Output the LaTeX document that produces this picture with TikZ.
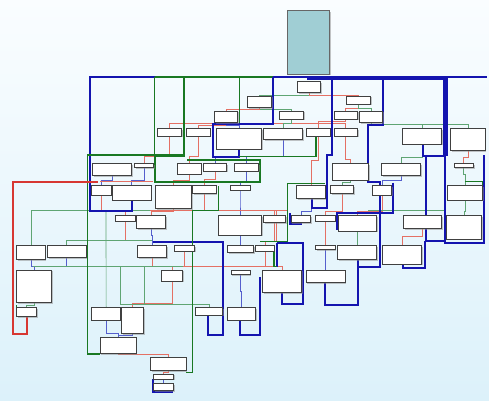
\documentclass[tikz,border=0pt]{standalone}
\usepackage{xcolor}
\usepackage{tikz}
\usetikzlibrary{backgrounds,shadows}

\definecolor{wireblue}{RGB}{20,20,175}
\definecolor{wiregreen}{RGB}{25,120,35}
\definecolor{wirered}{RGB}{215,55,50}
\definecolor{thinred}{RGB}{228,112,100}
\definecolor{thingreen}{RGB}{95,165,115}
\definecolor{thinblue}{RGB}{85,95,205}
\definecolor{entryfill}{RGB}{160,206,212}
\definecolor{skytop}{RGB}{250,253,255}
\definecolor{skybottom}{RGB}{220,241,250}

\begin{document}
\begin{tikzpicture} [x=0.5pt, y=-0.5pt,
       cfgblock/.style = {rectangle, inner sep=0pt, outer sep=0pt,
                          draw=black!75, line width=1.1pt, fill=white,
                          drop shadow={shadow xshift=2.2pt, shadow yshift=-2.2pt, fill=black!45}},
       entryblock/.style = {cfgblock, fill=entryfill, draw=black!60},
       bluewire/.style = {draw=wireblue, line width=3pt},
       greenwire/.style = {draw=wiregreen, line width=2.4pt},
       redwire/.style = {draw=wirered, line width=2.6pt},
       redthin/.style = {draw=thinred, line width=1pt},
       greenthin/.style = {draw=thingreen, line width=1pt},
       bluethin/.style = {draw=thinblue, line width=1pt}]
	%% Blocks
	\node [entryblock, minimum width=63pt, minimum height=95pt] (entry) at (925,127) {};
	\foreach \n/\xa/\ya/\xb/\yb in {b1/892/245/962/278, b2/742/288/815/322, b3/1040/288/1112/312,
	    b4/838/333/910/357, b5/643/333/712/367, b6/1002/333/1072/357, b7/1078/333/1148/367,
	    b8/472/385/545/408, b9/560/385/630/408, b10/650/385/785/447, b11/790/385/908/418,
	    b12/918/385/990/408, b13/1002/385/1072/408, b14/1207/385/1325/432, b15/1352/385/1455/452,
	    b16/277/490/395/527, b17/403/490/460/502, b18/532/490/603/522, b19/610/490/680/513,
	    b20/703/490/775/513, b21/998/490/1105/540, b22/1145/490/1262/527, b23/1362/490/1420/502,
	    b24/275/557/333/585, b25/337/557/453/600, b26/467/557/575/625, b27/578/557/648/580,
	    b28/690/557/750/570, b29/890/557/975/595, b30/992/557/1060/580, b31/1117/557/1175/585,
	    b32/1342/557/1447/600, b33/347/647/405/663, b34/410/647/497/685, b35/655/647/785/705,
	    b36/790/647/857/668, b37/873/647/932/668, b38/947/647/1005/663, b39/1015/647/1130/693,
	    b40/1210/647/1325/685, b41/1340/647/1445/717, b42/50/737/135/778, b43/142/737/258/773,
	    b44/412/737/500/773, b45/523/737/583/753, b46/682/737/760/758, b47/767/737/822/753,
	    b48/947/737/1005/748, b49/1013/737/1130/778, b50/1148/737/1265/792, b51/50/810/155/907,
	    b52/485/810/547/843, b53/693/810/750/823, b54/788/810/905/877, b55/918/810/1035/847,
	    b56/50/922/110/950, b57/275/922/362/960, b58/365/922/430/1000, b59/585/922/668/945,
	    b60/682/922/767/960, b61/300/1012/408/1060, b62/452/1072/558/1112, b63/460/1122/520/1137,
	    b64/460/1150/520/1172}
	    \node [cfgblock, minimum width={(\xb-\xa)*0.5pt}, minimum height={(\yb-\ya)*0.5pt}]
	          (\n) at ({(\xa+\xb)/2},{(\ya+\yb)/2}) {};

	\begin{scope}[on background layer]
		\shade [top color=skytop, bottom color=skybottom] (0,0) rectangle (1467,1200);
		%% thin edges
		\draw [greenthin] (b1.south) -- ++(0,8) -| (b2.north);
		\draw [redthin] (b1.south) -- ++(0,8) -| (b3.north);
		\draw [greenthin] (b2.south) -- ++(0,6) -| (b4.north);
		\draw [redthin] (b2.south) -- ++(0,6) -| (b5.north);
		\draw [redthin] (b3.south) -- ++(0,12) -| (b6.north);
		\draw [greenthin] (b3.south) -- ++(0,12) -| (b7.north);
		\draw [redthin] (b4.south) -- ++(0,13) -| (b8.north);
		\draw [redthin] (b4.south) -- ++(0,13) -| (b13.north);
		\draw [greenthin] (b4.south) -- ++(0,13) -| (b11.north);
		\draw [redthin] (b5.south) -- ++(0,8) -| (b9.north);
		\draw [bluethin] (b5.south) -- ++(0,8) -| (b10.north);
		\draw [redthin] (b6.south) -- ++(0,8) -| (b12.north);
		\draw [greenthin] (b7.south) -- ++(0,5) -| (b15.north);
		\draw [greenthin] (b7.south) -- ++(0,5) -| (b14.north);
		\draw [redthin] (b8.south) -- ++(0,62) -| (b17.north);
		\draw [redthin] (b9.south) -- ++(0,60) -| (b18.north);
		\draw [bluethin] (b10.south) -- ++(0,23) -| (b20.north);
		\draw [bluethin] (b11.south) -- ++(0,52) -| (b19.north);
		\draw [redthin] (b12.south) -- ++(0,72) -| (b29.north);
		\draw [redthin] (b13.south) -- ++(0,70) -| (b21.north);
		\draw [greenthin] (b14.south) -- ++(0,40) -| (b22.north);
		\draw [redthin] (b15.south) -- ++(0,20) -| (b23.north);
		\draw [bluethin] (b16.south) -- ++(0,15) -| (b24.north);
		\draw [bluethin] (b17.south) -- ++(0,40) -| (b25.north);
		\draw [redthin] (b18.south) -- ++(0,18) -| (b26.north);
		\draw [redthin] (b19.south) -- ++(0,25) -| (b27.north);
		\draw [bluethin] (b20.south) -- ++(0,30) -| (b28.north);
		\draw [greenthin] (b21.south) -- ++(0,8) -| (b30.north);
		\draw [bluethin] (b22.south) -- ++(0,15) -| (b31.north);
		\draw [greenthin] (b23.south) -- ++(0,20) -| (b32.north);
		\draw [redthin] (b24.south) -- ++(0,50) -| (b33.north);
		\draw [redthin] (b26.south) -- ++(0,10) -| (b34.north);
		\draw [redthin] (b27.south) -- ++(0,50) -| (b36.north);
		\draw [bluethin] (b28.south) -- ++(0,30) -| (b35.north);
		\draw [bluethin] (b29.south) -- ++(0,40) -| (b37.north);
		\draw [redthin] (b30.south) -- ++(0,55) -| (b38.north);
		\draw [redthin] (b31.south) -- ++(0,50) -| (b39.north);
		\draw [greenthin] (b32.south) -- ++(0,35) -| (b41.north);
		\draw [redthin] (b33.south) -- ++(0,57) -| (b44.north);
		\draw [bluethin] (b34.south) -- ++(0,20) -| (b44.north);
		\draw [bluethin] (b35.south) -- ++(0,15) -| (b46.north);
		\draw [redthin] (b36.south) -- ++(0,55) -| (b47.north);
		\draw [redthin] (b38.south) -- ++(0,40) -| (b48.north);
		\draw [greenthin] (b39.south) -- ++(0,20) -| (b49.north);
		\draw [redthin] (b40.south) -- ++(0,25) -| (b50.north);
		\draw [bluethin] (b42.south) -- ++(0,20) -| (b51.north);
		\draw [bluethin] (b43.south) -- ++(0,27) -| (b51.north);
		\draw [redthin] (b44.south) -- ++(0,27) -| (b52.north);
		\draw [redthin] (b45.south) -- ++(0,47) -| (b52.north);
		\draw [redthin] (b47.south) -- ++(0,47) -| (b54.north);
		\draw [bluethin] (b48.south) -- ++(0,30) -| (b55.north);
		\draw [bluethin] (b53.south) -- ++(0,50) -| (b60.north);
		\draw [greenthin] (b51.south) -- ++(0,8) -| (b56.north);
		\draw [redthin] (b52.south) -- ++(0,67) -| (b58.north);
		\draw [bluethin] (b57.south) -- ++(0,40) -| (b61.north);
		\draw [bluethin] (b58.south) -- ++(0,5) -| (b61.north);
		\draw [redthin] (b61.south) -- ++(0,2) -| (b62.north);
		\draw [redthin] (b62.south) -- ++(0,4) -| (b63.north);
		\draw [bluethin] (b63.south) -- ++(0,6) -| (b64.north);
		%% long thin runs
		\draw [greenthin] (b42.north) |- (650,630);
		\draw [greenthin] (b43.north) |- (455,722);
		\draw [greenthin] (100,800) -- (600,800);
		\draw [redthin] (550,800) -- (840,800);
		\draw [greenthin] (b57.north) -- (318,632);
		\draw [greenthin] (360,800) -- (360,912) -| (b59.north);
		\draw [greenthin] (432,800) -- (432,912);
		\draw [redthin] (300,545) -- (460,545);
		\draw [redthin] (450,632) -- (860,632);
		\draw [greenthin] (1105,632) -- (1335,632);
		\draw [redthin] (830,632) -- (830,725);

		%% blue and green frames
		\draw [bluewire] (395,600) -- (395,632) -- (270,632) -- (270,230) -- (465,230);
		\draw [greenwire, line width=1.5pt] (463,232) -- (463,468);
		\draw [greenwire] (465,231) -- (820,231);
		\draw [greenwire] (552,232) -- (552,468) -- (463,468);
		\draw [greenwire, line width=1.6pt] (718,232) -- (718,372);
		\draw [bluewire] (718,447) -- (718,470) -- (640,470) -- (640,372) -- (818,372) -- (818,232);
		\draw [bluewire] (820,232) -- (1462,232);
		\draw [bluewire, line width=5.5pt] (920,234) -- (1340,234);
		\draw [greenwire, line width=1.6pt] (718,470) -- (948,470) -- (948,408);
		\draw [bluewire] (995,232) -- (995,465) -- (980,465) -- (980,625) -- (935,625) -- (935,595);
		\draw [bluewire] (1150,232) -- (1150,375) -- (1105,375) -- (1105,545) -- (1140,545)
		                 -- (1140,800) -- (1075,800) -- (1075,778);
		\draw [bluewire, line width=7.5pt] (1337,232) -- (1337,468);
		\draw [bluewire] (1337,468) -- (1270,468) -- (1270,432);
		\draw [bluewire] (1452,465) -- (1452,730) -- (1335,730) -- (1335,468);
		\draw [bluewire] (1277,470) -- (1277,722) -- (1335,722);
		\draw [bluewire] (1210,792) -- (1210,805) -- (1275,805) -- (1275,722);
		\draw [bluewire] (1180,548) -- (1180,640) -- (1010,640) -- (1010,690);
		\draw [bluewire] (830,730) -- (910,730) -- (910,912) -- (845,912) -- (845,877);
		\draw [bluewire] (830,730) -- (830,800);
		\draw [bluewire] (975,847) -- (975,915) -- (1075,915) -- (1075,800);
		\draw [bluewire] (460,727) -- (670,727) -- (670,1005) -- (625,1005) -- (625,945);
		\draw [bluewire] (720,960) -- (720,1005) -- (780,1005) -- (780,830);
		\draw [bluewire, line width=2pt] (870,640) -- (870,672) -- (905,672);
		\draw [bluewire] (463,1140) -- (458,1140) -- (458,1175) -- (520,1175);
		\draw [greenwire] (262,465) -- (262,1062) -- (300,1062);
		\draw [greenwire] (262,465) -- (555,465);
		\draw [greenwire] (465,468) -- (465,546) -- (780,546) -- (780,480) -- (560,480);
		\draw [greenwire] (558,1117) -- (578,1117) -- (578,632) -- (655,632) -- (655,558);
		\draw [greenwire] (780,725) -- (862,725) -- (862,550) -- (975,550);
		\draw [greenwire] (822,753) -- (822,800) -- (830,800);
		\draw [greenwire] (50,915) -- (50,950) -- (78,950);
		\draw [greenwire, line width=1.6pt] (1395,545) -- (1447,545) -- (1447,600);
		\draw [redwire] (80,950) -- (80,1002) -- (40,1002) -- (40,545) -- (295,545);
	\end{scope}
\end{tikzpicture}
\end{document}
